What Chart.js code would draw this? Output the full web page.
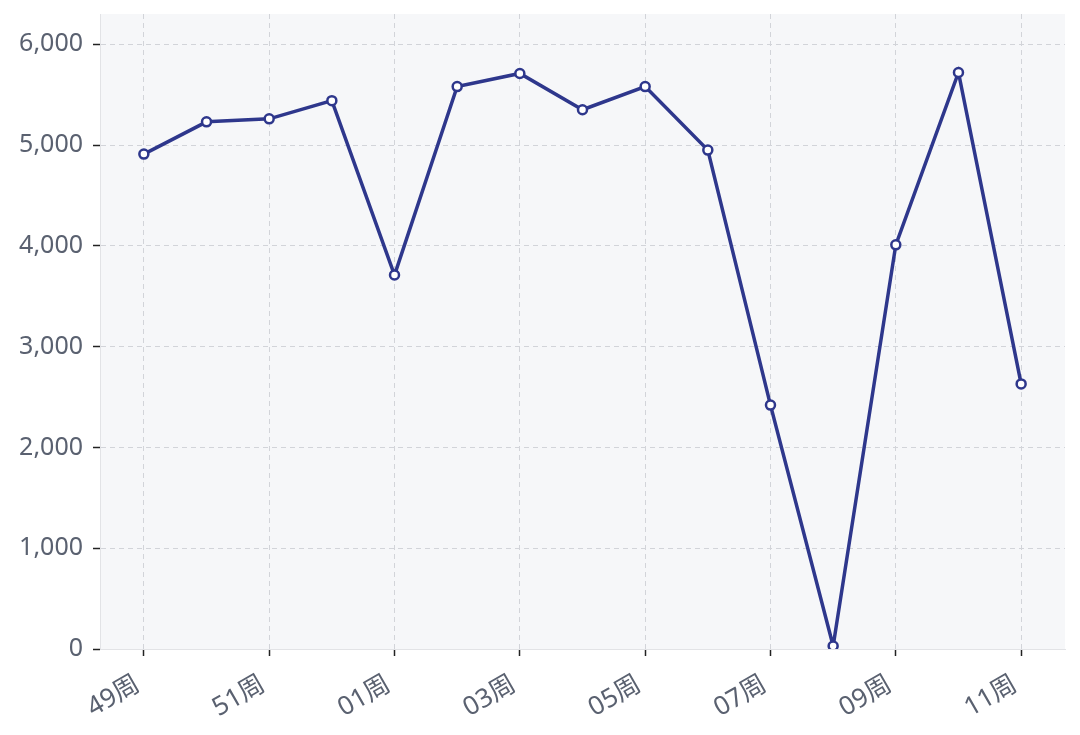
<!DOCTYPE html>
<html>
<head>
<meta charset="utf-8">
<script src="https://cdn.jsdelivr.net/npm/chart.js@4.4.1/dist/chart.umd.min.js"></script>
<style>
  html, body { margin: 0; padding: 0; background: #ffffff; }
  #wrap { width: 1080px; height: 735px; }
</style>
</head>
<body>
<div id="wrap"><canvas id="chart" width="1080" height="735"></canvas></div>
<script>
// 周次
const weeks = ['49周', '50周', '51周', '52周', '01周', '02周', '03周', '04周', '05周', '06周', '07周', '08周', '09周', '10周', '11周'];
// 每周数值
const values = [4910, 5230, 5260, 5440, 3710, 5580, 5710, 5350, 5580, 4950, 2420, 30, 4010, 5720, 2630];
// y轴刻度
const yTicks = [0, 1000, 2000, 3000, 4000, 5000, 6000];

const lineColor = '#2e378c';
const fontFamily = '"Noto Sans", "Noto Sans CJK SC", sans-serif';

// 绘图区背景
const plotBg = {
    id: 'plotBg',
    beforeDraw(chart) {
        const a = chart.chartArea;
        const ctx = chart.ctx;
        ctx.save();
        ctx.fillStyle = '#f6f7f9';
        ctx.fillRect(a.left, a.top, a.right - a.left, a.bottom - a.top);
        ctx.restore();
    }
};

new Chart(document.getElementById('chart'), {
    type: 'line',
    data: {
        datasets: [{
            data: values.map((v, i) => ({ x: i, y: v })),
            borderColor: lineColor,
            borderWidth: 3.5,
            pointRadius: 4.5,
            pointBorderWidth: 2.5,
            pointBackgroundColor: '#ffffff',
            pointBorderColor: lineColor,
            tension: 0
        }]
    },
    options: {
        responsive: false,
        animation: false,
        layout: { padding: { top: 14, right: 15, left: 0, bottom: 0 } },
        plugins: { legend: { display: false }, tooltip: { enabled: false } },
        scales: {
            x: {
                type: 'linear',
                min: -0.7,
                max: weeks.length - 1 + 0.7,
                afterBuildTicks(scale) {
                    scale.ticks = weeks.map((w, i) => ({ value: i })).filter(t => t.value % 2 === 0);
                },
                afterFit(scale) {
                    scale.height = 86;
                    scale.paddingLeft = 0;
                    scale.paddingRight = 0;
                },
                ticks: {
                    callback: v => weeks[v],
                    font: { family: fontFamily, size: 26 },
                    color: '#5a6170',
                    minRotation: 30,
                    maxRotation: 30,
                    padding: 13,
                    labelOffset: -6
                },
                grid: {
                    color: '#d2d4d9',
                    tickColor: '#222',
                    tickLength: 7,
                    tickWidth: 1.5
                },
                border: { color: '#e2e3e6', width: 1, dash: [5, 4] }
            },
            y: {
                min: 0,
                max: 6300,
                afterBuildTicks(scale) {
                    scale.ticks = yTicks.map(v => ({ value: v }));
                },
                afterFit(scale) {
                    scale.width = 100;
                    scale.paddingTop = 0;
                    scale.paddingBottom = 0;
                },
                ticks: {
                    callback: v => v.toLocaleString('en-US'),
                    font: { family: fontFamily, size: 25 },
                    color: '#5a6170',
                    padding: 10
                },
                grid: {
                    color: '#d2d4d9',
                    tickColor: '#222',
                    tickLength: 7,
                    tickWidth: 1.5
                },
                border: { color: '#e2e3e6', width: 1, dash: [5, 4] }
            }
        }
    },
    plugins: [plotBg]
});
</script>
</body>
</html>
